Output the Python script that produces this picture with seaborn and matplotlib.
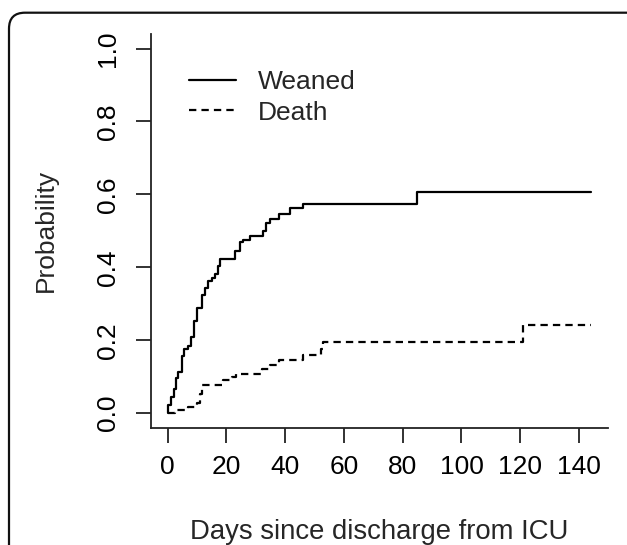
import matplotlib
matplotlib.use("Agg")
import matplotlib.pyplot as plt
from matplotlib.patches import FancyBboxPatch
from matplotlib.lines import Line2D
import seaborn as sns
import pandas as pd

# ---- data ----
weaned_time = [0, 0, 1.0, 2.0, 3.0, 3.6, 4.8, 5.6, 6.8, 7.8, 9.0, 10.0, 11.6, 12.7,
               13.8, 15.1, 16.1, 17.0, 17.9, 23.0, 24.7, 25.7, 27.9, 32.4, 33.6,
               34.8, 37.8, 41.6, 45.9, 84.7, 144]
weaned_prob = [0, 0.022, 0.045, 0.067, 0.095, 0.112, 0.157, 0.175, 0.183, 0.208, 0.252,
               0.287, 0.325, 0.342, 0.363, 0.372, 0.383, 0.403, 0.422, 0.444, 0.470,
               0.476, 0.487, 0.499, 0.521, 0.533, 0.546, 0.563, 0.575, 0.606, 0.606]
death_time = [0, 2.5, 6.8, 10.0, 11.0, 11.7, 18.8, 21.9, 23.4, 32.1, 34.7, 37.8,
              45.9, 52.2, 52.9, 120.9, 144]
death_prob = [0, 0.009, 0.018, 0.029, 0.052, 0.078, 0.091, 0.100, 0.107, 0.121, 0.133,
              0.146, 0.159, 0.176, 0.195, 0.243, 0.243]
event_labels = ["Weaned", "Death"]
x_ticks = [0, 20, 40, 60, 80, 100, 120, 140]
y_ticks = [0.0, 0.2, 0.4, 0.6, 0.8, 1.0]
x_label = "Days since discharge from ICU"
y_label = "Probability"

df = pd.concat([
    pd.DataFrame({"time": weaned_time, "prob": weaned_prob, "event": event_labels[0]}),
    pd.DataFrame({"time": death_time, "prob": death_prob, "event": event_labels[1]}),
], ignore_index=True)

sns.set_style("ticks")
plt.rcParams["font.family"] = ["Liberation Sans", "DejaVu Sans"]
FS = 19
LW = 1.6
DASH = (3.3, 2.3)

fig = plt.figure(figsize=(6.27, 5.45), dpi=100)
ax = fig.add_axes([150.7 / 627, 1 - 427.7 / 545, (607.7 - 150.7) / 627, (427.7 - 34) / 545])

sns.lineplot(data=df, x="time", y="prob", style="event",
             dashes={event_labels[0]: "", event_labels[1]: DASH},
             color="black", linewidth=LW, estimator=None, sort=False,
             drawstyle="steps-post", legend=False, ax=ax)

ax.set_xlim(-0.04 * 144, 144 * 1.04)
ax.set_ylim(-0.04, 1.04)
ax.set_xticks(x_ticks)
ax.set_xticklabels([str(v) for v in x_ticks])
ax.set_yticks(y_ticks)
ax.set_yticklabels([f"{v:.1f}" for v in y_ticks])
ax.set_xlabel(x_label, fontsize=19.8, labelpad=29)
ax.set_ylabel(y_label, fontsize=FS, labelpad=28)

for s in ["top", "right"]:
    ax.spines[s].set_visible(False)
for s in ["left", "bottom"]:
    ax.spines[s].set_linewidth(1.3)
    ax.spines[s].set_color("#222222")
ax.tick_params(axis="both", length=10.8, width=1.3, color="#222222",
               labelsize=FS, labelcolor="black", direction="out")
ax.tick_params(axis="x", pad=9)
ax.tick_params(axis="y", pad=11, labelrotation=90)
for lab in ax.get_yticklabels():
    lab.set_va("center")
    lab.set_ha("right")
ax.grid(False)

handles = [Line2D([0], [0], color="black", lw=LW),
           Line2D([0], [0], color="black", lw=LW, dashes=DASH)]
leg = ax.legend(handles, event_labels, loc="upper left", frameon=False,
                bbox_to_anchor=(189 / 627, 1 - 70 / 545), bbox_transform=fig.transFigure,
                fontsize=FS, handlelength=1.78, handletextpad=0.83,
                borderpad=0, borderaxespad=0, labelspacing=0.25)

frame = FancyBboxPatch((0.09, -0.6), 6.35, 5.45 - 0.127 + 0.6,
                       boxstyle="round,pad=0,rounding_size=0.16",
                       transform=fig.dpi_scale_trans, fill=False,
                       edgecolor="#111111", linewidth=1.6, clip_on=False)
fig.patches.append(frame)

fig.savefig("out.png", dpi=100)
